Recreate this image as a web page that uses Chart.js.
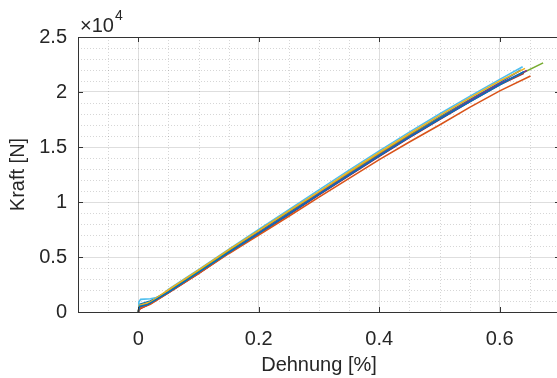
<!DOCTYPE html>
<html>
<head>
<meta charset="utf-8">
<script src="https://cdn.jsdelivr.net/npm/chart.js@4.4.1/dist/chart.umd.min.js"></script>
<style>
    html, body { margin: 0; padding: 0; background: #fff; overflow: hidden; }
    #wrap { width: 566px; height: 378px; }
</style>
</head>
<body>
<div id="wrap"><canvas id="kraftChart"></canvas></div>
<script>
// ===============================
// DATEN
// ===============================

const xMajorTicks = [0, 0.2, 0.4, 0.6];
const xTickLabels = ["0", "0.2", "0.4", "0.6"];
const xMinorTicks = [-0.05, 0.05, 0.1, 0.15, 0.25, 0.3, 0.35, 0.45, 0.5, 0.55, 0.65];

const yMajorTicks = [0, 5000, 10000, 15000, 20000, 25000];
const yTickLabels = ["0", "0.5", "1", "1.5", "2", "2.5"];
const yMinorTicks = [1000, 2000, 3000, 4000, 6000, 7000, 8000, 9000, 11000, 12000, 13000, 14000,
    16000, 17000, 18000, 19000, 21000, 22000, 23000, 24000];

const farben = ["#0072BD", "#D95319", "#EDB120", "#7E2F8E", "#77AC30", "#4DBEEE", "#A2142F", "#0072BD"];

const dehnung1 = [0, 0.002, 0.015, 0.05, 0.1, 0.15, 0.2, 0.25, 0.3, 0.35, 0.4, 0.45, 0.5, 0.55, 0.6, 0.64];
const kraft1 = [0, 500, 650, 1800, 3600, 5400, 7150, 8900, 10700, 12450, 14200, 15900, 17550, 19100, 20650, 21850];

const dehnung2 = [0, 0.003, 0.02, 0.05, 0.1, 0.15, 0.2, 0.25, 0.3, 0.35, 0.4, 0.45, 0.5, 0.55, 0.6, 0.651];
const kraft2 = [0, 350, 700, 1750, 3500, 5300, 7000, 8700, 10450, 12150, 13850, 15450, 17000, 18600, 20100, 21450];

const dehnung3 = [0, 0.002, 0.02, 0.05, 0.1, 0.15, 0.2, 0.25, 0.3, 0.35, 0.4, 0.45, 0.5, 0.55, 0.6, 0.642];
const kraft3 = [0, 600, 900, 2000, 3800, 5650, 7400, 9200, 10950, 12750, 14500, 16200, 17850, 19450, 21000, 22150];

const dehnung4 = [0, 0.002, 0.02, 0.05, 0.1, 0.15, 0.2, 0.25, 0.3, 0.35, 0.4, 0.45, 0.5, 0.55, 0.6, 0.645];
const kraft4 = [0, 400, 800, 1800, 3550, 5400, 7200, 8950, 10750, 12500, 14250, 15950, 17600, 19200, 20750, 21950];

const dehnung5 = [0, 0.002, 0.02, 0.05, 0.1, 0.15, 0.2, 0.25, 0.3, 0.35, 0.4, 0.45, 0.5, 0.55, 0.6, 0.672];
const kraft5 = [0, 500, 900, 1950, 3750, 5600, 7400, 9150, 10900, 12650, 14400, 16050, 17650, 19200, 20700, 22650];

const dehnung6 = [0, 0.001, 0.004, 0.02, 0.035, 0.05, 0.1, 0.15, 0.2, 0.25, 0.3, 0.35, 0.4, 0.45, 0.5, 0.55, 0.6, 0.638];
const kraft6 = [0, 900, 1150, 1200, 1350, 2050, 3850, 5700, 7500, 9300, 11100, 12900, 14650, 16350, 18000, 19600, 21150, 22300];

const dehnung7 = [0, 0.003, 0.02, 0.05, 0.1, 0.15, 0.2, 0.25, 0.3, 0.35, 0.4, 0.45, 0.5, 0.55, 0.6, 0.64];
const kraft7 = [0, 300, 750, 1750, 3500, 5350, 7100, 8850, 10650, 12400, 14150, 15850, 17500, 19100, 20650, 21700];

const dehnung8 = [0, 0.002, 0.02, 0.05, 0.1, 0.15, 0.2, 0.25, 0.3, 0.35, 0.4, 0.45, 0.5, 0.55, 0.6, 0.635];
const kraft8 = [0, 700, 1000, 1900, 3650, 5500, 7300, 9050, 10800, 12600, 14350, 16050, 17700, 19300, 20850, 22000];

const proben = [
    [dehnung1, kraft1], [dehnung2, kraft2], [dehnung3, kraft3], [dehnung4, kraft4],
    [dehnung5, kraft5], [dehnung6, kraft6], [dehnung7, kraft7], [dehnung8, kraft8]
];

const schrift = "'Liberation Sans', Arial, sans-serif";
const textFarbe = "#262626";

// ===============================
// MATLAB-RAHMEN (Nebengitter, Box, Ticks nach innen, Exponent)
// ===============================

const matlabAchsen = {
    id: "matlabAchsen",

    beforeDatasetsDraw: function (chart) {
        const ctx = chart.ctx;
        const a = chart.chartArea;
        const x = chart.scales.x;
        const y = chart.scales.y;

        ctx.save();
        ctx.strokeStyle = "rgba(0,0,0,0.16)";
        ctx.lineWidth = 1;
        ctx.setLineDash([1, 2]);
        ctx.beginPath();
        xMinorTicks.forEach(function (v) {
            const px = Math.round(x.getPixelForValue(v)) + 0.5;
            ctx.moveTo(px, a.top);
            ctx.lineTo(px, a.bottom);
        });
        yMinorTicks.forEach(function (v) {
            const py = Math.round(y.getPixelForValue(v)) + 0.5;
            ctx.moveTo(a.left, py);
            ctx.lineTo(a.right, py);
        });
        ctx.stroke();
        ctx.restore();
    },

    afterDatasetsDraw: function (chart) {
        const ctx = chart.ctx;
        const a = chart.chartArea;
        const x = chart.scales.x;
        const y = chart.scales.y;
        const len = 5;

        ctx.save();
        ctx.strokeStyle = "#333333";
        ctx.lineWidth = 1;
        ctx.beginPath();
        ctx.rect(Math.round(a.left) + 0.5, Math.round(a.top) + 0.5,
            Math.round(a.right - a.left), Math.round(a.bottom - a.top));

        xMajorTicks.forEach(function (v) {
            const px = Math.round(x.getPixelForValue(v)) + 0.5;
            ctx.moveTo(px, a.bottom);
            ctx.lineTo(px, a.bottom - len);
            ctx.moveTo(px, a.top);
            ctx.lineTo(px, a.top + len);
        });
        yMajorTicks.forEach(function (v) {
            const py = Math.round(y.getPixelForValue(v)) + 0.5;
            ctx.moveTo(a.left, py);
            ctx.lineTo(a.left + len, py);
            ctx.moveTo(a.right, py);
            ctx.lineTo(a.right - len, py);
        });
        ctx.stroke();

        // Exponent der y-Achse
        ctx.fillStyle = textFarbe;
        ctx.textBaseline = "alphabetic";
        ctx.textAlign = "left";
        ctx.font = "20px " + schrift;
        ctx.fillText("\u00d710", a.left + 2, a.top - 5);
        const breite = ctx.measureText("\u00d710").width;
        ctx.font = "14px " + schrift;
        ctx.fillText("4", a.left + 3 + breite, a.top - 17);
        ctx.restore();
    }
};

// ===============================
// DIAGRAMM
// ===============================

const datensaetze = proben.map(function (probe, i) {
    return {
        label: "Probe " + (i + 1),
        data: probe[0].map(function (d, j) {
            return { x: d, y: probe[1][j] };
        }),
        borderColor: farben[i],
        backgroundColor: farben[i],
        borderWidth: 1.6,
        pointRadius: 0,
        tension: 0,
        fill: false
    };
});

new Chart(document.getElementById("kraftChart"), {
    type: "line",
    data: { datasets: datensaetze },
    options: {
        responsive: true,
        maintainAspectRatio: false,
        animation: false,
        layout: {
            padding: { top: 37, right: 6, bottom: 0, left: 0 }
        },
        plugins: {
            legend: { display: false },
            tooltip: { enabled: false }
        },
        scales: {
            x: {
                type: "linear",
                min: -0.1,
                max: 0.7,
                afterBuildTicks: function (scale) {
                    scale.ticks = xMajorTicks.map(function (v) { return { value: v }; });
                },
                afterFit: function (scale) {
                    scale.height = 66;
                },
                ticks: {
                    padding: 15,
                    maxRotation: 0,
                    color: textFarbe,
                    font: { family: schrift, size: 20 },
                    callback: function (value, index) {
                        return xTickLabels[index];
                    }
                },
                grid: {
                    color: "rgba(0,0,0,0.13)",
                    lineWidth: 1,
                    drawTicks: false
                },
                border: { display: false },
                title: {
                    display: true,
                    text: "Dehnung [%]",
                    color: textFarbe,
                    font: { family: schrift, size: 20 },
                    padding: { top: 0, bottom: 1 }
                }
            },
            y: {
                type: "linear",
                min: 0,
                max: 25000,
                afterBuildTicks: function (scale) {
                    scale.ticks = yMajorTicks.map(function (v) { return { value: v }; });
                },
                afterFit: function (scale) {
                    scale.width = 78;
                },
                ticks: {
                    padding: 11,
                    color: textFarbe,
                    font: { family: schrift, size: 20 },
                    callback: function (value, index) {
                        return yTickLabels[index];
                    }
                },
                grid: {
                    color: "rgba(0,0,0,0.13)",
                    lineWidth: 1,
                    drawTicks: false
                },
                border: { display: false },
                title: {
                    display: true,
                    text: "Kraft [N]",
                    color: textFarbe,
                    font: { family: schrift, size: 20 },
                    padding: { top: 6, bottom: 0 }
                }
            }
        }
    },
    plugins: [matlabAchsen]
});
</script>
</body>
</html>
